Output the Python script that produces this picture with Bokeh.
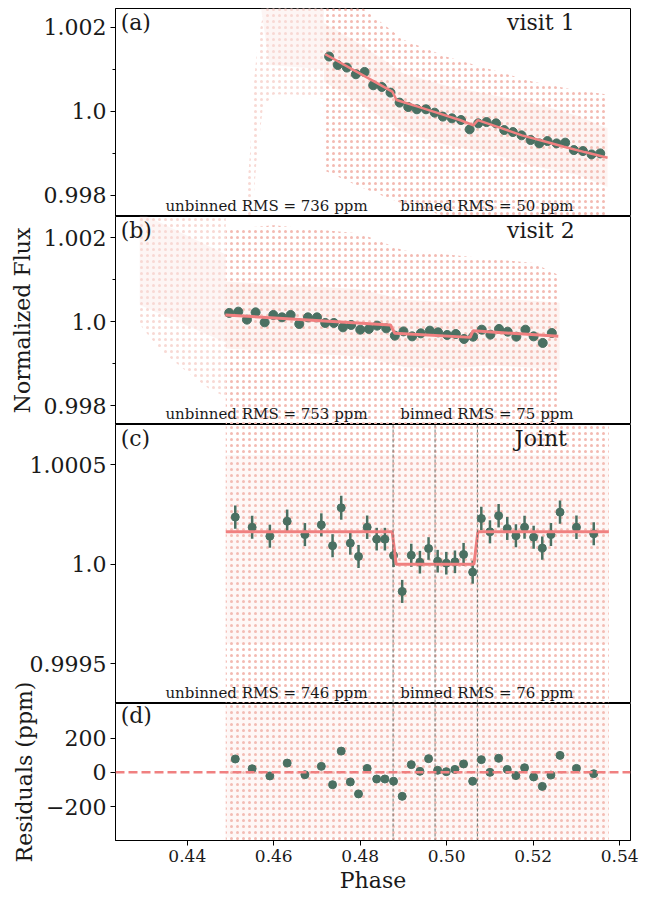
from bokeh.plotting import figure
from bokeh.models import FixedTicker, Span, Label, Range1d, CustomJSTickFormatter
from bokeh.layouts import column
from bokeh.embed import file_html
from bokeh.resources import INLINE

FONT = "DejaVu Serif"

# ---------------- data ----------------
X_RANGE = (0.4234, 0.5425)
x_ticks = [0.44, 0.46, 0.48, 0.50, 0.52, 0.54]
x_tick_labels = ["0.44", "0.46", "0.48", "0.50", "0.52", "0.54"]

flux_ticks = [0.998, 1.0, 1.002]
flux_tick_labels = ["0.998", "1.0", "1.002"]
flux_minor = [0.999, 1.001]
joint_ticks = [0.9995, 1.0, 1.0005]
joint_tick_labels = ["0.9995", "1.0", "1.0005"]
resid_ticks = [-200, 0, 200]
resid_tick_labels = ["\u2212200", "0", "200"]

# visit 1 (panel a)
v1_bin_phase = [0.4728, 0.4748, 0.4769, 0.4790, 0.4810, 0.4830, 0.4850, 0.4870,
                0.4891, 0.4911, 0.4931, 0.4952, 0.4972, 0.4991, 0.5012, 0.5033,
                0.5053, 0.5073, 0.5092, 0.5114, 0.5133, 0.5153, 0.5173, 0.5194,
                0.5214, 0.5233, 0.5254, 0.5274, 0.5294, 0.5315, 0.5335, 0.5355]
v1_bin_flux = [1.001302, 1.001102, 1.001040, 1.000881, 1.000936, 1.000619, 1.000579, 1.000445,
               1.000207, 1.000102, 1.000048, 1.000048, 0.999969, 0.999874, 0.999833, 0.999793,
               0.999571, 0.999714, 0.999745, 0.999714, 0.999555, 0.999507, 0.999429, 0.999317,
               0.999238, 0.999293, 0.999238, 0.999255, 0.999079, 0.999055, 0.998976, 0.999000]
v1_model_phase = [0.4719, 0.4740, 0.4788, 0.4837, 0.4874, 0.4884, 0.4933, 0.4982, 0.5030,
                  0.5062, 0.5072, 0.5092, 0.5126, 0.5174, 0.5223, 0.5271, 0.5319, 0.5372]
v1_model_flux = [1.001357, 1.001238, 1.000960, 1.000683, 1.000470, 1.000270, 1.000112, 0.999952, 0.999793,
                 0.999670, 0.999790, 0.999720, 0.999600, 0.999429, 0.999293, 0.999159, 0.999031, 0.998898]
v1_cloud_phase = [0.4716, 0.4800, 0.4900, 0.5000, 0.5100, 0.5200, 0.5300, 0.5372]
v1_cloud_hi = [1.0026, 1.0025, 1.0017, 1.0013, 1.0010, 1.0007, 1.0005, 1.0004]
v1_cloud_lo = [0.9986, 0.9982, 0.9978, 0.9975, 0.9973, 0.9971, 0.9970, 0.9969]
v1_core_hi = [1.0021, 1.0016, 1.0009, 1.0006, 1.0004, 1.0002, 0.9999, 0.9996]
v1_core_lo = [1.0007, 1.0002, 0.9995, 0.9992, 0.9990, 0.9987, 0.9985, 0.9982]
v1_faint_phase = [0.4533, 0.4545, 0.4555, 0.4565, 0.4580, 0.4716, 0.4716, 0.4650, 0.4600, 0.4575, 0.4560, 0.4550]
v1_faint_flux = [0.99750, 0.99900, 1.00080, 1.00180, 1.00250, 1.00250, 1.00030, 1.00040, 1.00040, 1.00010, 0.99880, 0.99750]
v1_faint_core_phase = [0.4570, 0.4716, 0.4716, 0.4590]
v1_faint_core_flux = [1.00250, 1.00250, 1.00100, 1.00110]

# visit 2 (panel b)
v2_bin_phase = [0.4497, 0.4518, 0.4538, 0.4558, 0.4579, 0.4599, 0.4619, 0.4639, 0.4659, 0.4679,
                0.4700, 0.4719, 0.4739, 0.4760, 0.4779, 0.4800, 0.4820, 0.4839, 0.4860, 0.4880,
                0.4900, 0.4920, 0.4940, 0.4961, 0.4980, 0.5001, 0.5021, 0.5040, 0.5061, 0.5081,
                0.5101, 0.5121, 0.5141, 0.5161, 0.5182, 0.5201, 0.5222, 0.5243]
v2_bin_flux = [1.000208, 1.000239, 1.000048, 1.000222, 0.999983, 1.000160, 1.000103, 1.000160, 0.999945, 1.000103,
               1.000103, 0.999969, 0.999969, 0.999864, 0.999921, 0.999809, 0.999826, 0.999905, 0.999840, 0.999666,
               0.999768, 0.999649, 0.999721, 0.999785, 0.999745, 0.999683, 0.999706, 0.999587, 0.999642, 0.999809,
               0.999690, 0.999826, 0.999761, 0.999642, 0.999809, 0.999649, 0.999492, 0.999730]
v2_model_phase = [0.4488, 0.4870, 0.4880, 0.5054, 0.5061, 0.5258]
v2_model_flux = [1.000160, 0.999921, 0.999721, 0.999625, 0.999785, 0.999649]
v2_cloud_phase = [0.4489, 0.4600, 0.4700, 0.4800, 0.4900, 0.5000, 0.5100, 0.5200, 0.5261]
v2_cloud_hi = [1.0022, 1.0023, 1.0022, 1.0021, 1.0017, 1.0016, 1.0015, 1.0014, 1.0011]
v2_cloud_lo = [0.9974, 0.9974, 0.9974, 0.9974, 0.9974, 0.9974, 0.9974, 0.9974, 0.9974]
v2_core_hi = [1.00096, 1.00089, 1.00083, 1.00077, 1.00052, 1.00047, 1.00056, 1.00050, 1.00045]
v2_core_lo = [0.99936, 0.99929, 0.99923, 0.99917, 0.99892, 0.99887, 0.99896, 0.99890, 0.99885]
v2_faint_phase = [0.4287, 0.4489, 0.4489, 0.4450, 0.4400, 0.4340, 0.4300, 0.4287]
v2_faint_flux = [1.0026, 1.0026, 0.9982, 0.9984, 0.9988, 0.9993, 0.9998, 1.0000]
v2_faint_core_phase = [0.4290, 0.4489, 0.4489, 0.4290]
v2_faint_core_flux = [1.0026, 1.0016, 0.9995, 1.0004]

# joint (panel c)
joint_bin_phase = [0.4511, 0.4550, 0.4591, 0.4631, 0.4672, 0.4710, 0.4736, 0.4756, 0.4777, 0.4796,
                   0.4816, 0.4838, 0.4857, 0.4877, 0.4897, 0.4918, 0.4938, 0.4958, 0.4979, 0.4999,
                   0.5019, 0.5039, 0.5060, 0.5080, 0.5100, 0.5120, 0.5140, 0.5160, 0.5180, 0.5201,
                   0.5221, 0.5241, 0.5262, 0.5300, 0.5340]
joint_bin_flux = [1.000237, 1.000186, 1.000141, 1.000216, 1.000149, 1.000198, 1.000093, 1.000284, 1.000106, 1.000039,
                  1.000186, 1.000126, 1.000126, 1.000044, 0.999863, 1.000045, 1.000010, 1.000079, 1.000015, 1.000005,
                  1.000012, 1.000049, 0.999960, 1.000230, 1.000163, 1.000244, 1.000180, 1.000143, 1.000186, 1.000136,
                  1.000081, 1.000149, 1.000262, 1.000186, 1.000153]
joint_bin_err_ppm = [59, 58, 58, 59, 58, 58, 58, 60, 58, 58, 59, 57, 57, 58, 58, 58, 57, 57,
                     57, 57, 57, 58, 58, 59, 58, 59, 58, 58, 58, 58, 58, 58, 59, 59, 58]
joint_model_phase = [0.4489, 0.4874, 0.4883, 0.5063, 0.5072, 0.5375]
joint_model_flux = [1.000163, 1.000163, 1.000000, 1.000000, 1.000163, 1.000163]
joint_cloud_phase = [0.4489, 0.5375]
joint_cloud_hi = [1.0010, 1.0010]
joint_cloud_lo = [0.9990, 0.9990]
joint_core_hi = [1.00055, 1.00055]
joint_core_lo = [0.99960, 0.99960]
transit_phase = [0.4876, 0.4973, 0.5071]

# residuals (panel d)
resid_ppm = [78, 21, -21, 54, -14, 35, -72, 124, -56, -126, 23, -39, -39, -52, -140, 45, 6, 80,
             12, 4, 17, 49, -52, 74, 0, 82, 17, -19, 27, -27, -82, -16, 99, 23, -8]
resid_cloud_hi = [700, 700]
resid_cloud_lo = [-700, -700]
resid_core_hi = [380, 380]
resid_core_lo = [-380, -380]

rms_texts = {
    "a": ("unbinned RMS = 736 ppm", "binned RMS = 50 ppm"),
    "b": ("unbinned RMS = 753 ppm", "binned RMS = 75 ppm"),
    "c": ("unbinned RMS = 746 ppm", "binned RMS = 76 ppm"),
}

# ---------------- style ----------------
DOT = "#4a7062"
MODEL = "#f08080"
CLOUD = "#f3bab2"
CORE = "#f6cbc4"
FAINT = "#f8d9d4"
VLINE = "#4d625c"

YR_A = (0.9975, 1.002444)
YR_B = (0.997547, 1.002508)
YR_C = (0.999299, 1.000703)
YR_D = (-398, 402)

FH_A, FH_B, FH_C, FH_D = 208, 208, 279, 137
BASE_SHIFT = 0.38  # em offset of the rendered alphabetic baseline


def fmt(vals, labs):
    return CustomJSTickFormatter(args=dict(vals=vals, labs=labs), code="""
        for (let i = 0; i < vals.length; i++) {
            if (Math.abs(tick - vals[i]) < 1e-9 * Math.max(1, Math.abs(vals[i]))) return labs[i];
        }
        return '';
    """)


def make_panel(height, yr, top=0, bottom=0):
    p = figure(width=652, height=height, x_range=Range1d(*X_RANGE), y_range=Range1d(*yr),
               output_backend="svg", toolbar_location=None, title=None,
               min_border=0, min_border_left=115, min_border_right=22,
               min_border_top=top, min_border_bottom=bottom)
    p.grid.visible = False
    p.outline_line_color = "black"
    p.outline_line_width = 1
    p.background_fill_color = "white"
    ax = p.yaxis[0]
    ax.axis_line_color = "black"
    ax.major_tick_out = 5
    ax.major_tick_in = 0
    ax.minor_tick_out = 3
    ax.minor_tick_in = 0
    ax.major_tick_line_color = "black"
    ax.minor_tick_line_color = "black"
    ax.major_label_text_font = FONT
    ax.major_label_text_font_size = "22px"
    ax.major_label_text_color = "#1a1a1a"
    ax.major_label_standoff = 4
    ax.axis_label_text_font = FONT
    ax.axis_label_text_font_size = "22px"
    ax.axis_label_text_font_style = "normal"
    ax.axis_label_text_color = "#1a1a1a"
    ax.axis_label_standoff = 6
    return p


def fx(f):
    return X_RANGE[0] + f * (X_RANGE[1] - X_RANGE[0])


def y_top(yr, fh, px):
    return yr[1] - px / fh * (yr[1] - yr[0])


def y_bot(yr, fh, px):
    return yr[0] + px / fh * (yr[1] - yr[0])


def add_text(p, yr, fh, f, px, text, size=22, align="left", from_top=True):
    shift = BASE_SHIFT * size
    y = y_top(yr, fh, px - shift) if from_top else y_bot(yr, fh, px + shift)
    p.add_layout(Label(x=fx(f), y=y, text=text, text_font=FONT, text_font_size=f"{size}px",
                       text_align=align, text_baseline="alphabetic", text_color="#1a1a1a"))


def hatch_area(p, x, y1, y2, color, scale, weight):
    p.varea(x=x, y1=y1, y2=y2, fill_alpha=0, hatch_pattern=".", hatch_color=color,
            hatch_scale=scale, hatch_weight=weight)


def tint_area(p, x, y1, y2, color, alpha):
    p.varea(x=x, y1=y1, y2=y2, fill_color=color, fill_alpha=alpha)


def hatch_patch(p, x, y, color, scale, weight):
    p.patch(x=x, y=y, fill_alpha=0, line_alpha=0, hatch_pattern=".", hatch_color=color,
            hatch_scale=scale, hatch_weight=weight)


def tint_patch(p, x, y, color, alpha):
    p.patch(x=x, y=y, fill_color=color, fill_alpha=alpha, line_alpha=0)


# ---------------- panel (a) ----------------
pa = make_panel(8 + FH_A, YR_A, top=8)
pa.xaxis.visible = False
pa.yaxis.ticker = FixedTicker(ticks=flux_ticks, minor_ticks=flux_minor)
pa.yaxis.formatter = fmt(flux_ticks, flux_tick_labels)
hatch_patch(pa, v1_faint_phase, v1_faint_flux, FAINT, 6, 1.1)
tint_patch(pa, v1_faint_core_phase, v1_faint_core_flux, FAINT, 0.25)
hatch_area(pa, v1_cloud_phase, v1_cloud_lo, v1_cloud_hi, CLOUD, 6, 1.2)
tint_area(pa, v1_cloud_phase, v1_core_lo, v1_core_hi, CORE, 0.22)
pa.scatter(v1_bin_phase, v1_bin_flux, size=9, color=DOT)
pa.line(v1_model_phase, v1_model_flux, line_color=MODEL, line_width=2.5)
add_text(pa, YR_A, FH_A, 0.01, 22, "(a)")
add_text(pa, YR_A, FH_A, 0.826, 22, "visit 1", align="center")
add_text(pa, YR_A, FH_A, 0.097, 5, rms_texts["a"][0], size=15, from_top=False)
add_text(pa, YR_A, FH_A, 0.553, 5, rms_texts["a"][1], size=15, from_top=False)

# ---------------- panel (b) ----------------
pb = make_panel(FH_B, YR_B)
pb.xaxis.visible = False
pb.yaxis.ticker = FixedTicker(ticks=flux_ticks, minor_ticks=flux_minor)
pb.yaxis.formatter = fmt(flux_ticks, flux_tick_labels)
pb.yaxis.axis_label = "Normalized Flux"
hatch_patch(pb, v2_faint_phase, v2_faint_flux, FAINT, 6, 1.1)
tint_patch(pb, v2_faint_core_phase, v2_faint_core_flux, FAINT, 0.25)
hatch_area(pb, v2_cloud_phase, v2_cloud_lo, v2_cloud_hi, CLOUD, 6, 1.2)
tint_area(pb, v2_cloud_phase, v2_core_lo, v2_core_hi, CORE, 0.22)
pb.scatter(v2_bin_phase, v2_bin_flux, size=9, color=DOT)
pb.line(v2_model_phase, v2_model_flux, line_color=MODEL, line_width=3)
add_text(pb, YR_B, FH_B, 0.01, 22, "(b)")
add_text(pb, YR_B, FH_B, 0.826, 22, "visit 2", align="center")
add_text(pb, YR_B, FH_B, 0.097, 5, rms_texts["b"][0], size=15, from_top=False)
add_text(pb, YR_B, FH_B, 0.553, 5, rms_texts["b"][1], size=15, from_top=False)

# ---------------- panel (c) ----------------
pc = make_panel(FH_C, YR_C)
pc.xaxis.visible = False
pc.yaxis.ticker = FixedTicker(ticks=joint_ticks, minor_ticks=[])
pc.yaxis.formatter = fmt(joint_ticks, joint_tick_labels)
hatch_area(pc, joint_cloud_phase, joint_cloud_lo, joint_cloud_hi, CLOUD, 6, 1.2)
tint_area(pc, joint_cloud_phase, joint_core_lo, joint_core_hi, CORE, 0.15)
for t in transit_phase:
    pc.add_layout(Span(location=t, dimension="height", line_color=VLINE, line_width=0.8, line_dash="3 2"))
err = [e * 1e-6 for e in joint_bin_err_ppm]
pc.segment(x0=joint_bin_phase, y0=[f - e for f, e in zip(joint_bin_flux, err)],
           x1=joint_bin_phase, y1=[f + e for f, e in zip(joint_bin_flux, err)],
           line_color=DOT, line_width=2.5)
pc.scatter(joint_bin_phase, joint_bin_flux, size=8, color=DOT)
pc.line(joint_model_phase, joint_model_flux, line_color=MODEL, line_width=3)
add_text(pc, YR_C, FH_C, 0.01, 22, "(c)")
add_text(pc, YR_C, FH_C, 0.826, 22, "Joint", align="center")
add_text(pc, YR_C, FH_C, 0.097, 5, rms_texts["c"][0], size=15, from_top=False)
add_text(pc, YR_C, FH_C, 0.553, 5, rms_texts["c"][1], size=15, from_top=False)

# ---------------- panel (d) ----------------
pd_ = make_panel(30 + FH_D + 57, YR_D, top=30, bottom=57)
pd_.margin = (-30, 0, 0, 0)
pd_.border_fill_color = None
pd_.yaxis.ticker = FixedTicker(ticks=resid_ticks, minor_ticks=[])
pd_.yaxis.formatter = fmt(resid_ticks, resid_tick_labels)
pd_.yaxis.axis_label = "Residuals (ppm)"
xa = pd_.xaxis[0]
xa.ticker = FixedTicker(ticks=x_ticks, minor_ticks=[])
xa.formatter = fmt(x_ticks, x_tick_labels)
xa.axis_line_color = "black"
xa.major_tick_out = 5
xa.major_tick_in = 0
xa.major_tick_line_color = "black"
xa.major_label_text_font = FONT
xa.major_label_text_font_size = "17px"
xa.major_label_text_color = "#1a1a1a"
xa.major_label_standoff = 4
xa.axis_label = "Phase"
xa.axis_label_text_font = FONT
xa.axis_label_text_font_size = "22px"
xa.axis_label_text_font_style = "normal"
xa.axis_label_text_color = "#1a1a1a"
xa.axis_label_standoff = 3
hatch_area(pd_, joint_cloud_phase, resid_cloud_lo, resid_cloud_hi, CLOUD, 6, 1.2)
tint_area(pd_, joint_cloud_phase, resid_core_lo, resid_core_hi, CORE, 0.15)
for t in transit_phase:
    pd_.add_layout(Span(location=t, dimension="height", line_color=VLINE, line_width=0.8, line_dash="3 2"))
pd_.add_layout(Span(location=0, dimension="width", line_color=MODEL, line_width=2.5, line_dash="9 4"))
pd_.scatter(joint_bin_phase, resid_ppm, size=8, color=DOT)
add_text(pd_, YR_D, FH_D, 0.01, 20, "(d)")

layout = column(pa, pb, pc, pd_, spacing=0)
open("out.html", "w").write(file_html(layout, INLINE))
